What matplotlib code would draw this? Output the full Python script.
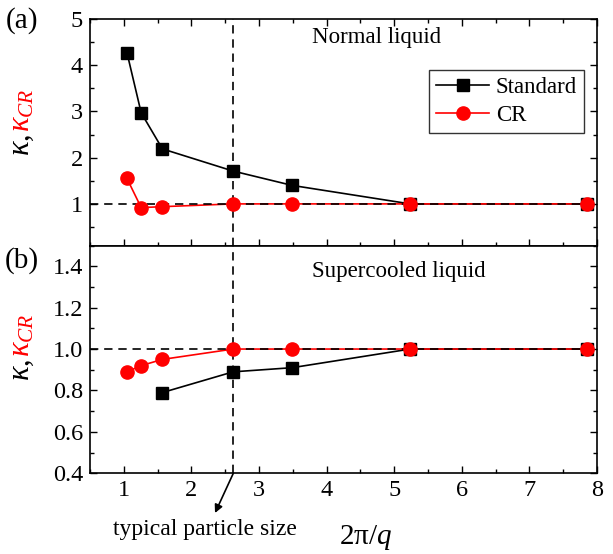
import matplotlib
matplotlib.use("Agg")
import matplotlib.pyplot as plt
from matplotlib.ticker import MultipleLocator
from matplotlib.lines import Line2D

# ---------------- data ----------------
x_all = [1.047, 1.257, 1.571, 2.618, 3.491, 5.236, 7.854]
top_standard = [4.27, 2.97, 2.19, 1.71, 1.40, 1.00, 1.00]
top_cr = [1.55, 0.92, 0.94, 1.00, 1.00, 1.00, 1.00]
x_bot_standard = [1.571, 2.618, 3.491, 5.236, 7.854]
bot_standard = [0.79, 0.89, 0.91, 1.00, 1.00]
bot_cr = [0.89, 0.92, 0.95, 1.00, 1.00, 1.00, 1.00]
x_particle = 2.62
x_ticks = [1, 2, 3, 4, 5, 6, 7, 8]
top_yticks = [1, 2, 3, 4, 5]
bot_yticks = [0.4, 0.6, 0.8, 1.0, 1.2, 1.4]

plt.rcParams['font.family'] = ['Liberation Serif', 'DejaVu Serif']
plt.rcParams['mathtext.fontset'] = 'custom'
plt.rcParams['mathtext.rm'] = 'Liberation Serif'
plt.rcParams['mathtext.it'] = 'Liberation Serif:italic'
plt.rcParams['mathtext.bf'] = 'Liberation Serif:bold'

W, H = 613, 554
fig = plt.figure(figsize=(W / 100, H / 100), dpi=100)

L, R = 90 / W, 597 / W
y_top_t = 1 - 19 / H
y_mid = 1 - 245.5 / H
y_bot_b = 1 - 473.3 / H
ax1 = fig.add_axes([L, y_mid, R - L, y_top_t - y_mid])
ax2 = fig.add_axes([L, y_bot_b, R - L, y_mid - y_bot_b], sharex=ax1)

TS = 17.5
for ax in (ax1, ax2):
    ax.set_xlim(0.5, 8)
    ax.xaxis.set_major_locator(MultipleLocator(1))
    ax.xaxis.set_minor_locator(MultipleLocator(0.5))
    ax.tick_params(which='both', direction='in', right=True, width=1, labelsize=TS)
    ax.tick_params(which='major', length=5, pad=5)
    ax.tick_params(which='minor', length=3)
    for s in ax.spines.values():
        s.set_linewidth(1.2)
    ax.axhline(1.0, color='black', ls=(0, (5, 3.5)), lw=1.2, zorder=2.5)
    ax.axvline(x_particle, color='black', ls=(0, (5, 3.5)), lw=1.2, zorder=2.5)

ax1.tick_params(which='both', top=True, labelbottom=False)
ax2.tick_params(which='both', top=False)

ax1.set_ylim(0.1, 5)
ax1.set_yticks(top_yticks)
ax1.yaxis.set_minor_locator(MultipleLocator(0.5))
ax2.set_ylim(0.4, 1.5)
ax2.set_yticks(bot_yticks)
ax2.set_yticklabels([f"{v:.1f}" for v in bot_yticks])
ax2.yaxis.set_minor_locator(MultipleLocator(0.1))
ax2.set_xticks(x_ticks)

ms_sq, ms_c = 8, 9.5
# top panel
ax1.plot(x_all, top_standard, color='black', lw=1.2, zorder=2)
ax1.plot(x_all, top_standard, ls='none', marker='s', ms=ms_sq, color='black', zorder=3)
ax1.plot(x_all, top_cr, color='red', lw=1.2, zorder=2)
ax1.plot(x_all, top_cr, ls='none', marker='o', ms=ms_c, color='red', zorder=3.2)
# bottom panel
ax2.plot(x_bot_standard, bot_standard, color='black', lw=1.2, zorder=2)
ax2.plot(x_bot_standard, bot_standard, ls='none', marker='s', ms=ms_sq, color='black', zorder=3)
ax2.plot(x_all, bot_cr, color='red', lw=1.2, zorder=2)
ax2.plot(x_all, bot_cr, ls='none', marker='o', ms=ms_c, color='red', zorder=3.2)

handles = [Line2D([], [], color='black', lw=1.2, marker='s', ms=ms_sq),
           Line2D([], [], color='red', lw=1.2, marker='o', ms=ms_c)]
leg = ax1.legend(handles, ['Standard', 'CR'], loc='upper right',
                 bbox_to_anchor=((584 - 90) / 507, 1 - (70 - 19) / 226.5),
                 fontsize=16.5, frameon=True, fancybox=False, edgecolor='black',
                 handlelength=2.3, handletextpad=0.3, borderpad=0.3,
                 labelspacing=0.3, borderaxespad=0)
leg.get_frame().set_linewidth(1.0)

# texts
def fp(px, py):
    return (px / W, 1 - py / H)

fig.text(*fp(312, 38), 'Normal liquid', fontsize=16.5, ha='left', va='center')
fig.text(*fp(312, 271), 'Supercooled liquid', fontsize=16.5, ha='left', va='center')
fig.text(*fp(22, 21), '(a)', fontsize=21, ha='center', va='center')
fig.text(*fp(22, 261), '(b)', fontsize=21, ha='center', va='center')

fig.text(*fp(366, 538), r'$\mathrm{2π/}q$', fontsize=21, ha='center', va='center')
fig.text(*fp(205, 529), 'typical particle size', fontsize=17, ha='center', va='center')

# arrow
ax2.annotate('', xy=fp(215, 513), xycoords='figure fraction',
             xytext=(x_particle, 0.4), textcoords='data',
             arrowprops=dict(arrowstyle='-|>', color='black', lw=1.2,
                             mutation_scale=12, shrinkA=0, shrinkB=0),
             annotation_clip=False)

# two-colour y labels
fig.canvas.draw()
renderer = fig.canvas.get_renderer()

def ylabel_two(px_x, py_center):
    t1 = fig.text(0, 0, r'$κ$, ', fontsize=22, color='black', rotation=90,
                  rotation_mode='anchor', ha='left', va='baseline')
    t2 = fig.text(0, 0, r'$κ_{CR}$', fontsize=22, color='red', rotation=90,
                  rotation_mode='anchor', ha='left', va='baseline')
    h1 = t1.get_window_extent(renderer).height
    h2 = t2.get_window_extent(renderer).height
    total = h1 + h2
    y0 = (H - py_center) - total / 2
    t1.set_position((px_x / W, y0 / H))
    t2.set_position((px_x / W, (y0 + h1) / H))

ylabel_two(29, 122)
ylabel_two(29, 347)

fig.savefig('out.png', dpi=100)
